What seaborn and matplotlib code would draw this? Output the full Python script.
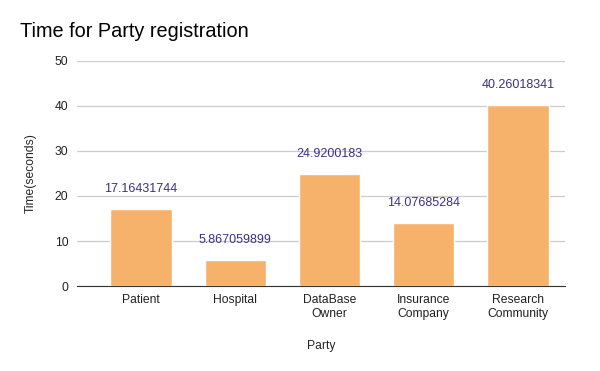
import matplotlib
matplotlib.use("Agg")
import matplotlib.pyplot as plt
import pandas as pd
import seaborn as sns

parties = ["Patient", "Hospital", "DataBase\nOwner", "Insurance\nCompany", "Research\nCommunity"]
times = [17.16431744, 5.867059899, 24.9200183, 14.07685284, 40.26018341]
labels = ["17.16431744", "5.867059899", "24.9200183", "14.07685284", "40.26018341"]

df = pd.DataFrame({"Party": parties, "Time": times})

sns.set_style("white")
plt.rcParams["font.family"] = ["Liberation Sans", "DejaVu Sans"]

fig = plt.figure(figsize=(6, 3.71), dpi=100)
ax = fig.add_axes([0.128, 0.229, 0.814, 0.607])

sns.barplot(data=df, x="Party", y="Time", color="#f6b26b", saturation=1, width=0.65, ax=ax)

ax.bar_label(ax.containers[0], labels=labels, padding=10, color="#3d2f8a", fontsize=9)

ax.set_ylim(0, 50)
ax.set_yticks(range(0, 51, 10))
ax.set_xlim(-0.68, 4.5)
ax.yaxis.grid(True, color="#cccccc", linewidth=0.9)
ax.set_axisbelow(True)
for s in ["top", "right", "left"]:
    ax.spines[s].set_visible(False)
ax.spines["bottom"].set_color("#333333")
ax.tick_params(axis="both", length=0, labelsize=8.7, colors="#222222", pad=6)

ax.set_xlabel("Party", fontsize=8.7, labelpad=14)
ax.set_ylabel("Time(seconds)", fontsize=8.7, labelpad=13)

fig.text(0.033, 0.915, "Time for Party registration", fontsize=14.3, ha="left", va="center", color="#000000")

fig.savefig("out.png", dpi=100)
